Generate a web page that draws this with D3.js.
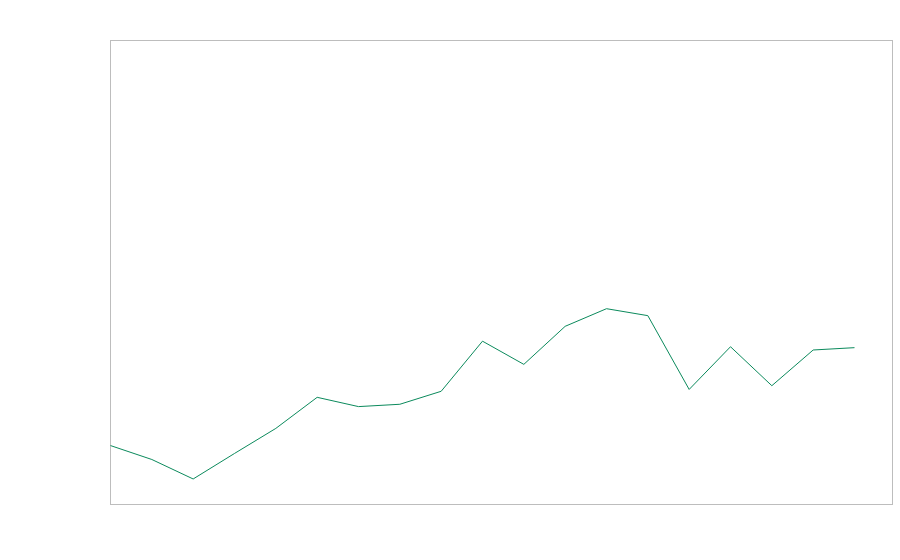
<!DOCTYPE html>
<html>
<head>
<meta charset="utf-8">
<script src="https://cdn.jsdelivr.net/npm/d3@7"></script>
<style>
  html, body { margin: 0; padding: 0; background: #fff; }
  svg { display: block; }
</style>
</head>
<body>
<svg id="chart" width="900" height="560"></svg>
<script>
const indices = [0,1,2,3,4,5,6,7,8,9,10,11,12,13,14,15,16,17,18];
const values = [12.7, 9.7, 5.5, 11.0, 16.4, 23.1, 21.1, 21.6, 24.4, 35.2, 30.2, 38.4, 42.2, 40.7, 24.8, 34.0, 25.6, 33.3, 33.8];

const margin = {top: 40.5, right: 7.5, bottom: 55.5, left: 110.5};
const W = 900, H = 560;
const iw = W - margin.left - margin.right;
const ih = H - margin.top - margin.bottom;

const svg = d3.select("#chart");
const g = svg.append("g").attr("transform", `translate(${margin.left},${margin.top})`);

g.append("rect")
  .attr("x", 0).attr("y", 0)
  .attr("width", iw).attr("height", ih)
  .attr("fill", "none")
  .attr("stroke", "#bdbdbd")
  .attr("stroke-width", 1);

const x = d3.scaleLinear().domain([0, 18]).range([0, 744]);
const y = d3.scaleLinear().domain([0, 100]).range([ih, 0]);

const line = d3.line()
  .x((d, i) => x(indices[i]))
  .y(d => y(d));

g.append("path")
  .datum(values)
  .attr("fill", "none")
  .attr("stroke", "#0b8a5c")
  .attr("stroke-width", 1)
  .attr("d", line);
</script>
</body>
</html>
